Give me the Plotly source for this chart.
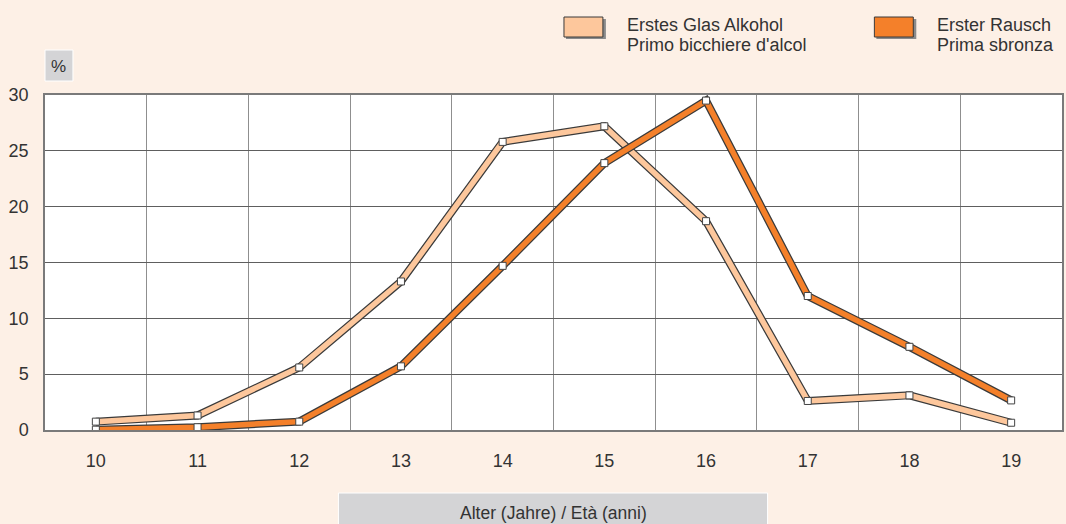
import plotly.graph_objects as go

# Data
ages = ["10", "11", "12", "13", "14", "15", "16", "17", "18", "19"]
erstes_glas = [0.75, 1.3, 5.6, 13.3, 25.8, 27.2, 18.7, 2.6, 3.1, 0.65]
erster_rausch = [0.03, 0.25, 0.75, 5.7, 14.7, 23.9, 29.5, 12.0, 7.45, 2.65]
y_ticks = [0, 5, 10, 15, 20, 25, 30]

series_names = [
    ("Erstes Glas Alkohol", "Primo bicchiere d'alcol"),
    ("Erster Rausch", "Prima sbronza"),
]
series_colors = ["#fdc79c", "#f4802a"]

BG = "#fdf0e6"
TEXT = "#333333"
FONT = "Arial, Liberation Sans, sans-serif"

# figure geometry (pixels)
W, H = 1066, 524
L, R, T, B = 45, 2, 95, 94
PW, PH = W - L - R, H - T - B


def px(x):
    return (x - L) / PW


def py(y):
    return (H - B - y) / PH


fig = go.Figure()

# each series: dark outline + coloured core + white square markers
for values, names, color in zip([erstes_glas, erster_rausch], series_names, series_colors):
    fig.add_trace(go.Scatter(
        x=ages, y=values, mode="lines",
        line=dict(color="#3a3a3a", width=8),
        hoverinfo="skip", showlegend=False,
    ))
    fig.add_trace(go.Scatter(
        x=ages, y=values, mode="lines+markers",
        line=dict(color=color, width=5.5),
        marker=dict(symbol="square", size=7, color="white",
                    line=dict(color="#444444", width=1)),
        name=" / ".join(names), showlegend=False,
    ))

shapes = []
annotations = []

# custom legend: box with drop shadow and two-line label
for names, color, bx in zip(series_names, series_colors, [565, 876]):
    shapes.append(dict(type="rect", xref="paper", yref="paper",
                       x0=px(bx + 2), x1=px(bx + 42), y0=py(39), y1=py(19),
                       fillcolor="#8a8a8a", line=dict(width=0), layer="above"))
    shapes.append(dict(type="rect", xref="paper", yref="paper",
                       x0=px(bx), x1=px(bx + 39), y0=py(37), y1=py(17),
                       fillcolor=color, line=dict(color="#3a3a3a", width=1),
                       layer="above"))
    for line_text, ty in zip(names, [25, 45]):
        annotations.append(dict(xref="paper", yref="paper", x=px(bx + 61), y=py(ty),
                                text=line_text, showarrow=False, xanchor="left",
                                yanchor="middle", align="left",
                                font=dict(size=18, color=TEXT, family=FONT)))

# "%" unit box
shapes.append(dict(type="rect", xref="paper", yref="paper",
                   x0=px(45), x1=px(73), y0=py(81), y1=py(50),
                   fillcolor="#d4d4d6", line=dict(color="white", width=1)))
annotations.append(dict(xref="paper", yref="paper", x=px(59), y=py(66),
                        text="%", showarrow=False, xanchor="center", yanchor="middle",
                        font=dict(size=17, color=TEXT, family=FONT)))

# x axis title box
shapes.append(dict(type="rect", xref="paper", yref="paper",
                   x0=px(339), x1=px(769), y0=py(530), y1=py(493),
                   fillcolor="#d4d4d6", line=dict(color="white", width=1)))
annotations.append(dict(xref="paper", yref="paper", x=px(554), y=py(513),
                        text="Alter (Jahre) / Età (anni)", showarrow=False,
                        xanchor="center", yanchor="middle",
                        font=dict(size=17.5, color=TEXT, family=FONT)))

fig.update_layout(
    width=W, height=H,
    margin=dict(l=L, r=R, t=T, b=B, pad=0),
    paper_bgcolor=BG, plot_bgcolor="white",
    font=dict(family=FONT, size=18, color=TEXT),
    showlegend=False,
    shapes=shapes, annotations=annotations,
    xaxis=dict(
        type="category", tickson="boundaries",
        range=[-0.5, len(ages) - 0.5],
        showgrid=True, gridcolor="#8f8f8f", gridwidth=1.2,
        showline=True, linecolor="#7a7a7a", linewidth=1.5, mirror=True,
        ticks="", ticklabelstandoff=14,
        tickfont=dict(size=18, color=TEXT),
        zeroline=False, fixedrange=True,
    ),
    yaxis=dict(
        range=[0, 30], tickvals=y_ticks,
        showgrid=True, gridcolor="#5e5e5e", gridwidth=1,
        showline=True, linecolor="#7a7a7a", linewidth=1.5, mirror=True,
        ticks="outside", ticklen=11, tickcolor="rgba(0,0,0,0)",
        tickfont=dict(size=18, color=TEXT),
        zeroline=False, fixedrange=True,
    ),
)

fig.write_html("out.html", config={"displayModeBar": False},
               post_script="document.body.style.margin='0';")
